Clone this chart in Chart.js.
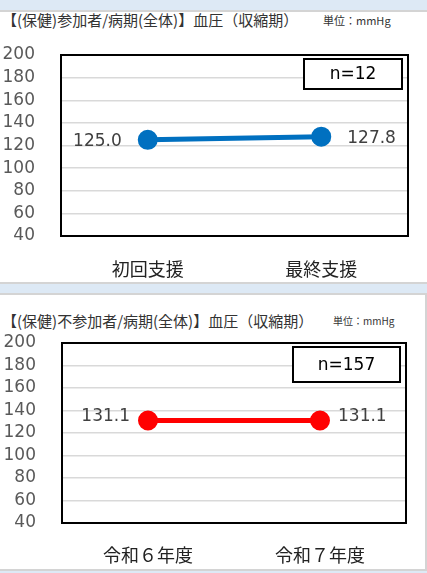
<!DOCTYPE html>
<html>
<head>
<meta charset="utf-8">
<script src="https://cdn.jsdelivr.net/npm/chart.js@4"></script>
<style>
  body { margin: 0; width: 427px; height: 573px; background: #dde9f5; position: relative; overflow: hidden; }
  .panel { position: absolute; background: #fff; box-sizing: border-box; }
  #p1 { left: 0; top: 10px; width: 427px; height: 274px; border-top: 2px solid #d4d4d4; border-bottom: 2px solid #d4d4d4; }
  #p2 { left: 0; top: 293px; width: 427px; height: 278px; border-top: 2px solid #d4d4d4; border-right: 2px solid #d4d4d4; border-bottom: 2px solid #d4d4d4; }
  .title { position: absolute; font: 15px "Noto Sans CJK JP"; color: #333; line-height: 20px; white-space: nowrap; }
  .unit { position: absolute; font-family: "Noto Sans CJK JP"; color: #333; line-height: 16px; white-space: nowrap; }
  canvas { position: absolute; }
</style>
</head>
<body>
<div class="panel" id="p1">
  <div class="title" style="left:2px; top:-2px;">【(保健)参加者/病期(全体)】血圧（収縮期）</div>
  <div class="unit" style="left:323px; top:0px; font-size:11px;">単位：mmHg</div>
  <div style="position:absolute; left:0; top:1px; width:427px; height:269px;"><canvas id="c1"></canvas></div>
</div>
<div class="panel" id="p2">
  <div class="title" style="left:2px; top:16px;">【(保健)不参加者/病期(全体)】血圧（収縮期）</div>
  <div class="unit" style="left:333px; top:18px; font-size:10px;">単位：mmHg</div>
  <div style="position:absolute; left:0; top:1px; width:425px; height:274px;"><canvas id="c2"></canvas></div>
</div>
<script>
// chart values
const labels1 = ["初回支援", "最終支援"];
const values1 = [125.0, 127.8];
const n1 = "n=12";

const labels2 = ["令和６年度", "令和７年度"];
const values2 = [131.1, 131.1];
const n2 = "n=157";

const yMin = 40;
const yMax = 200;
const yStep = 20;

const numFont = '"DejaVu Sans", "Noto Sans CJK JP"';

// value labels, plot frame and the n= box
const extras = {
  id: "extras",
  afterDraw(chart, args, opts) {
    const ctx = chart.ctx;
    const a = chart.chartArea;
    ctx.save();
    ctx.strokeStyle = "#000";
    ctx.lineWidth = 2;
    ctx.strokeRect(a.left, a.top, a.right - a.left, a.bottom - a.top);

    ctx.font = "17px " + numFont;
    ctx.fillStyle = "#404040";
    ctx.textBaseline = "middle";
    const meta = chart.getDatasetMeta(0);
    meta.data.forEach((pt, i) => {
      const v = chart.data.datasets[0].data[i];
      ctx.textAlign = i === 0 ? "right" : "left";
      ctx.fillText(v.toFixed(1), pt.x + (i === 0 ? -opts.gap : opts.gap), pt.y + opts.dy);
    });

    const bx = a.right - 6 - opts.boxW;
    const by = a.top + 4;
    ctx.fillStyle = "#fff";
    ctx.fillRect(bx, by, opts.boxW, opts.boxH);
    ctx.strokeRect(bx, by, opts.boxW, opts.boxH);
    ctx.fillStyle = "#000";
    ctx.textAlign = "center";
    ctx.fillText(opts.n, bx + opts.boxW / 2, by + opts.boxH / 2 + 1);
    ctx.restore();
  }
};

function makeChart(id, labels, values, color, o) {
  return new Chart(document.getElementById(id), {
    type: "line",
    data: {
      labels: labels,
      datasets: [{
        data: values,
        borderColor: color,
        backgroundColor: color,
        borderWidth: 5,
        pointRadius: 7.5,
        pointHoverRadius: 7.5,
        tension: 0
      }]
    },
    options: {
      responsive: true,
      maintainAspectRatio: false,
      animation: false,
      layout: { padding: { left: 0, right: o.right, top: o.top, bottom: 0 } },
      scales: {
        x: {
          offset: true,
          grid: { display: false },
          border: { display: false },
          ticks: { color: "#222", padding: o.xpad, font: { family: "Noto Sans CJK JP", size: 18 } },
          afterFit: (s) => { s.height = o.xh; }
        },
        y: {
          min: yMin,
          max: yMax,
          grid: { color: "#d9d9d9", lineWidth: 1.5, drawTicks: false },
          border: { display: false },
          ticks: { stepSize: yStep, autoSkip: false, color: "#595959", padding: 26, font: { family: numFont, size: 17 } },
          afterFit: (s) => { s.width = o.left; }
        }
      },
      plugins: {
        legend: { display: false },
        tooltip: { enabled: false },
        extras: { gap: o.gap, dy: o.dy, n: o.n, boxW: o.boxW, boxH: o.boxH }
      }
    },
    plugins: [extras]
  });
}

makeChart("c1", labels1, values1, "#0070c0",
  { left: 61, right: 19, top: 42, xh: 46, xpad: 14, gap: 26, dy: 2, n: n1, boxW: 98, boxH: 30 });
makeChart("c2", labels2, values2, "#ff0000",
  { left: 62, right: 19, top: 47, xh: 47, xpad: 13, gap: 18, dy: -4, n: n2, boxW: 107, boxH: 35 });
</script>
</body>
</html>
